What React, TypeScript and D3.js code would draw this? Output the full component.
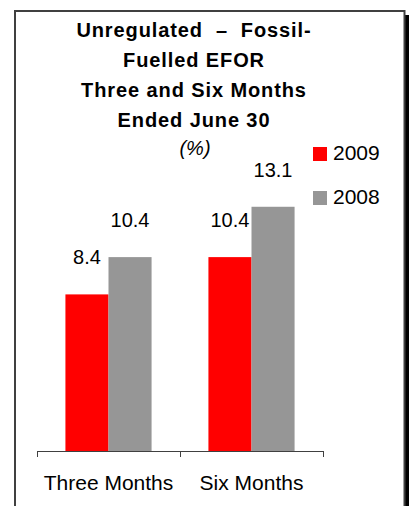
import * as d3 from "d3"
import React from "react"

// chart values
const categories = ["Three Months", "Six Months"]
const seriesNames = ["2009", "2008"]
const values2009 = [8.4, 10.4]
const values2008 = [10.4, 13.1]
const seriesColours = ["#ff0000", "#969696"]
const titleLines = ["Unregulated  \u2013  Fossil-", "Fuelled EFOR", "Three and Six Months", "Ended June 30"]
const subtitle = "(%)"

const W = 409, H = 506
const font = "'Liberation Sans', Arial, sans-serif"

// plot area
const baseline = 451, plotTop = 190
const axisLeft = 37, axisRight = 323

export default function App() {
  const x = d3.scaleBand<string>().domain(categories).range([axisLeft, axisRight]).padding(0)
  const xs = d3.scaleBand<string>().domain(seriesNames).range([0, x.bandwidth()]).paddingInner(0).paddingOuter(0.66)
  const y = d3.scaleLinear().domain([0, 14]).range([baseline, plotTop])

  const series = [values2009, values2008]
  const bars = series.flatMap((vals, si) =>
    vals.map((v, ci) => ({ cat: categories[ci], name: seriesNames[si], v, colour: seriesColours[si] })))

  // tick positions at the band edges
  const tickXs = [...categories.map(c => x(c)!), axisRight]

  return (
    <svg width={W} height={H} style={{ position: "absolute", left: 0, top: 0, background: "#fff" }}
      fontFamily={font}>
      {/* frame with dark drop shadow */}
      <rect x={405} y={15} width={4} height={H} fill="#000" />
      <rect x={15} y={11} width={389.5} height={H + 10} fill="#fff" stroke="#404040" strokeWidth={2} />

      {titleLines.map((t, i) => (
        <text key={t} x={194} y={37 + i * 30} textAnchor="middle" fontWeight="bold" fontSize={20}
          letterSpacing={0.9} style={{ whiteSpace: "pre" }}>{t}</text>
      ))}
      <text x={195} y={155} textAnchor="middle" fontStyle="italic" fontSize={20}>{subtitle}</text>

      {bars.map(b => (
        <rect key={b.cat + b.name} x={x(b.cat)! + xs(b.name)!} y={y(b.v)} width={xs.bandwidth()}
          height={baseline - y(b.v)} fill={b.colour} />
      ))}
      {bars.map(b => (
        <text key={"l" + b.cat + b.name} x={x(b.cat)! + xs(b.name)! + xs.bandwidth() / 2} y={y(b.v) - 30}
          textAnchor="middle" fontSize={20}>{b.v.toFixed(1)}</text>
      ))}

      {/* category axis */}
      <line x1={axisLeft} x2={axisRight} y1={baseline + 0.5} y2={baseline + 0.5} stroke="#404040" />
      {tickXs.map(t => (
        <line key={t} x1={t + 0.5} x2={t + 0.5} y1={baseline} y2={baseline + 6} stroke="#404040" />
      ))}
      {categories.map(c => (
        <text key={c} x={x(c)! + x.bandwidth() / 2} y={490} textAnchor="middle" fontSize={21}>{c}</text>
      ))}

      {/* legend */}
      {seriesNames.map((n, i) => (
        <g key={n} transform={`translate(313,${147 + i * 44})`}>
          <rect width={14} height={14} fill={seriesColours[i]} />
          <text x={20} y={12.5} fontSize={21}>{n}</text>
        </g>
      ))}
    </svg>
  )
}
